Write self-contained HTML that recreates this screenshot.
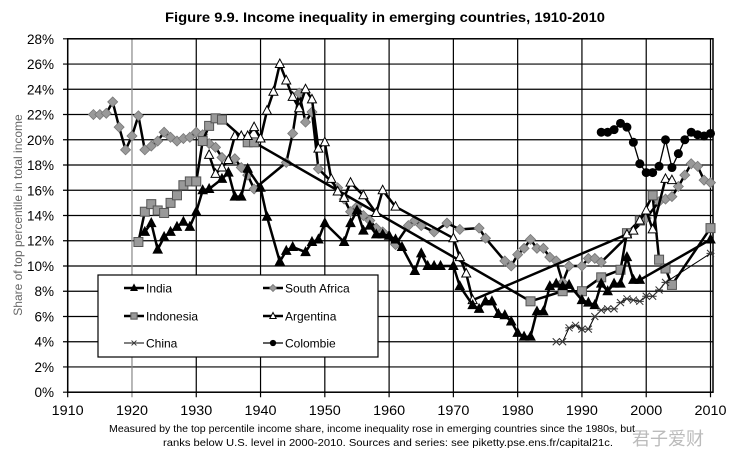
<!DOCTYPE html>
<html><head><meta charset="utf-8"><style>
html,body{margin:0;padding:0;background:#fff;}
svg{display:block;font-family:"Liberation Sans",Arial,sans-serif;}
</style></head>
<body>
<svg id="chart" width="744" height="467" viewBox="0 0 744 467" xmlns="http://www.w3.org/2000/svg">
<text x="385" y="22" text-anchor="middle" font-size="14" font-weight="bold" textLength="440" lengthAdjust="spacingAndGlyphs">Figure 9.9. Income inequality in emerging countries, 1910-2010</text>
<text transform="translate(22,215) rotate(-90)" text-anchor="middle" font-size="12" fill="#666">Share of top percentile in total income</text>
<g id="grid"></g>
<g id="axes"></g>
<g id="series"></g>
<g id="legend"></g>
<text x="372" y="432" text-anchor="middle" font-size="10.5" textLength="526" lengthAdjust="spacingAndGlyphs">Measured by the top percentile income share, income inequality rose in emerging countries since the 1980s, but</text>
<text x="388" y="446" text-anchor="middle" font-size="10.5" textLength="450" lengthAdjust="spacingAndGlyphs">ranks below U.S. level in 2000-2010. Sources and series: see piketty.pse.ens.fr/capital21c.</text>
<text x="668" y="445" text-anchor="middle" font-size="18" fill="#bbb" font-family="'Liberation Sans','Noto Sans CJK SC',sans-serif">君子爱财</text>
</svg>
<script>
const yTicks = [0,2,4,6,8,10,12,14,16,18,20,22,24,26,28];
const xTicks = [1910,1920,1930,1940,1950,1960,1970,1980,1990,2000,2010];

const indiaYears = [1922,1923,1924,1925,1926,1927,1928,1929,1930,1931,1932,1934,1935,1936,1937,1938,1940,1941,1943,1944,1945,1947,1948,1949,1950,1953,1954,1955,1956,1957,1958,1959,1960,1961,1962,1964,1965,1966,1967,1968,1970,1971,1973,1974,1975,1976,1977,1978,1979,1980,1981,1982,1983,1984,1985,1986,1987,1988,1990,1991,1992,1993,1994,1995,1996,1997,1998,1999,2010];
const indiaValues = [12.7,13.4,11.3,12.3,12.7,13.1,13.5,13.1,14.3,16.0,16.1,16.9,17.4,15.5,15.5,17.7,16.2,13.9,10.35,11.2,11.5,11.1,11.9,12.1,13.4,11.9,13.4,14.4,12.8,13.2,12.5,12.5,12.4,12.1,11.5,9.6,11.0,10.0,10.0,10.0,10.0,8.4,6.9,6.6,7.2,7.2,6.2,6.1,5.6,4.7,4.4,4.4,6.4,6.4,8.4,8.6,8.4,8.5,7.3,7.1,6.9,8.6,8.0,8.6,8.6,10.7,8.9,8.9,12.1];

const indonesiaYears = [1921,1922,1923,1924,1925,1926,1927,1928,1929,1930,1931,1932,1933,1934,1938,1939,1982,1987,1990,1993,1996,1997,1999,2001,2002,2003,2004,2010];
const indonesiaValues = [11.9,14.3,14.9,14.4,14.2,15.0,15.6,16.4,16.7,16.7,19.9,21.1,21.7,21.6,19.8,19.8,7.2,8.0,8.0,9.1,9.7,12.6,13.6,15.6,10.5,9.8,8.5,13.0];

const chinaYears = [1986,1987,1988,1989,1990,1991,1992,1993,1994,1995,1996,1997,1998,1999,2000,2001,2002,2003,2010];
const chinaValues = [4.0,4.0,5.1,5.3,5.0,5.0,6.0,6.5,6.6,6.6,7.1,7.4,7.3,7.2,7.6,7.6,8.1,8.7,11.0];

const safricaYears = [1914,1915,1916,1917,1918,1919,1920,1921,1922,1923,1924,1925,1926,1927,1928,1929,1930,1931,1932,1933,1934,1936,1937,1938,1939,1944,1945,1946,1947,1948,1949,1952,1953,1954,1955,1956,1957,1958,1959,1961,1963,1964,1965,1967,1969,1971,1974,1975,1978,1979,1980,1981,1982,1983,1984,1985,1986,1987,1988,1990,1991,1992,1993,2000,2002,2003,2004,2005,2006,2007,2008,2009,2010];
const safricaValues = [22.0,22.0,22.1,23.0,21.0,19.2,20.3,21.9,19.2,19.5,19.9,20.6,20.2,19.9,20.1,20.2,20.6,20.4,19.7,19.4,18.6,18.5,17.8,17.2,16.1,18.2,20.5,23.7,21.4,22.2,17.7,16.2,15.3,14.3,14.7,14.0,13.6,13.0,12.7,11.7,13.2,13.6,13.2,12.7,13.4,12.9,13.0,12.2,10.4,10.0,10.9,11.4,12.1,11.4,11.4,10.7,10.4,8.7,10.0,10.0,10.6,10.6,10.3,13.8,15.1,15.3,15.5,16.3,17.2,18.1,17.9,16.8,16.6];

const argentinaYears = [1932,1933,1934,1935,1936,1937,1938,1939,1940,1941,1942,1943,1944,1945,1946,1947,1948,1949,1950,1951,1952,1953,1954,1956,1958,1959,1961,1970,1971,1972,1973,1997,1998,1999,2000,2001,2003,2004];
const argentinaValues = [18.8,17.3,17.8,18.4,20.3,20.3,20.3,21.0,20.1,22.3,23.8,26.0,24.7,23.4,22.5,24.0,23.2,19.3,19.8,16.9,15.9,15.4,16.6,15.6,14.2,16.0,14.7,12.2,10.7,9.4,7.3,12.5,12.8,13.6,14.4,12.9,16.9,16.8];

const colombiaYears = [1993,1994,1995,1996,1997,1998,1999,2000,2001,2002,2003,2004,2005,2006,2007,2008,2009,2010];
const colombiaValues = [20.6,20.6,20.8,21.3,21.0,19.8,18.1,17.4,17.4,17.9,20.0,17.8,18.9,20.0,20.6,20.4,20.3,20.5];

const NS = "http://www.w3.org/2000/svg";
const X0 = 67.7, X1 = 710.5, Y0 = 392.2, Y1 = 38.8;
function xs(yr){ return X0 + (yr-1910)*(X1-X0)/100; }
function ys(v){ return Y0 - v*(Y0-Y1)/28; }
function mk(tag, attrs, parent){ const e=document.createElementNS(NS,tag); for(const k in attrs) e.setAttribute(k,attrs[k]); parent.appendChild(e); return e; }

const grid = document.getElementById('grid');
const axes = document.getElementById('axes');
yTicks.forEach(t=>{
  const l = mk('line',{x1:63,x2:X1+2,y1:ys(t),y2:ys(t),stroke:'#000','stroke-width':1.2},grid);
  
  
  const tx = mk('text',{x:54,y:ys(t)+5,'text-anchor':'end','font-size':13.5},axes);
  
  
  tx.textContent = t+'%';
});
xTicks.forEach(t=>{
  const l = mk('line',{x1:xs(t),x2:xs(t),y1:Y1,y2:Y0+5,stroke:t===1920?'#888':'#000','stroke-width':1.2},grid);
  
  
  const tx = mk('text',{x:xs(t),y:415,'text-anchor':'middle','font-size':13.5,textLength:32,lengthAdjust:'spacingAndGlyphs'},axes);
  
  
  tx.textContent = t;
});
const frame = mk('rect',{x:X0,y:Y1,width:X1-X0+2.5,height:Y0-Y1,fill:'none',stroke:'#000','stroke-width':1.5},axes);



function marker(type, x, y, parent, s){
  s = s || 1;
  let e;
  if(type==='tri'||type==='otri'){
    e = mk('polygon',{points:`${x},${y-5*s} ${x-4.5*s},${y+3.5*s} ${x+4.5*s},${y+3.5*s}`,fill:type==='tri'?'#000':'#fff',stroke:'#000','stroke-width':1},parent);
  } else if(type==='sq'){
    e = mk('rect',{x:x-4.5*s,y:y-4.5*s,width:9*s,height:9*s,fill:'#999',stroke:'#555','stroke-width':1},parent);
  } else if(type==='dia'){
    e = mk('polygon',{points:`${x},${y-5*s} ${x+5*s},${y} ${x},${y+5*s} ${x-5*s},${y}`,fill:'#999',stroke:'#777','stroke-width':0.8},parent);
  } else if(type==='dot'){
    e = mk('circle',{cx:x,cy:y,r:4.5*s,fill:'#000'},parent);
  } else {
    e = mk('path',{d:`M${x-3.5*s},${y-3.5*s}L${x+3.5*s},${y+3.5*s}M${x-3.5*s},${y+3.5*s}L${x+3.5*s},${y-3.5*s}M${x-4*s},${y}L${x+4*s},${y}`,stroke:'#333','stroke-width':1},parent);
  }
  return e;
}

const seriesG = document.getElementById('series');
function drawSeries(name, years, vals, type, width){
  const g = mk('g',{},seriesG);
  
  
  const pts = years.map((yr,i)=>xs(yr).toFixed(1)+','+ys(vals[i]).toFixed(1)).join(' ');
  const pl = mk('polyline',{points:pts,fill:'none',stroke:'#000','stroke-width':width,'stroke-linejoin':'round'},g);
  
  
  years.forEach((yr,i)=>{
    const m = marker(type, xs(yr), ys(vals[i]), g);
    
    
  });
}
drawSeries('south-africa', safricaYears, safricaValues, 'dia', 2.5);
drawSeries('indonesia', indonesiaYears, indonesiaValues, 'sq', 2.5);
drawSeries('argentina', argentinaYears, argentinaValues, 'otri', 2.5);
drawSeries('india', indiaYears, indiaValues, 'tri', 2.5);
drawSeries('china', chinaYears, chinaValues, 'star', 1);
drawSeries('colombie', colombiaYears, colombiaValues, 'dot', 1.3);

const lg = document.getElementById('legend');
const box = mk('rect',{x:98,y:275,width:280,height:82,fill:'#fff',stroke:'#000','stroke-width':1.2},lg);


const entries = [
  ['India','tri',2.5,124,288],['South Africa','dia',2.5,263,288],
  ['Indonesia','sq',2.5,124,316],['Argentina','otri',2.5,263,316],
  ['China','star',1,124,343],['Colombie','dot',1.3,263,343]
];
entries.forEach(([label,type,w,x,y])=>{
  const g = mk('g',{},lg);
  
  
  mk('line',{x1:x,x2:x+20,y1:y,y2:y,stroke:'#000','stroke-width':w},g);
  marker(type,x+10,y,g,0.7);
  const t = mk('text',{x:x+22,y:y+4.5,'font-size':12},g);
  t.textContent = label;
});
</script>
</body></html>
